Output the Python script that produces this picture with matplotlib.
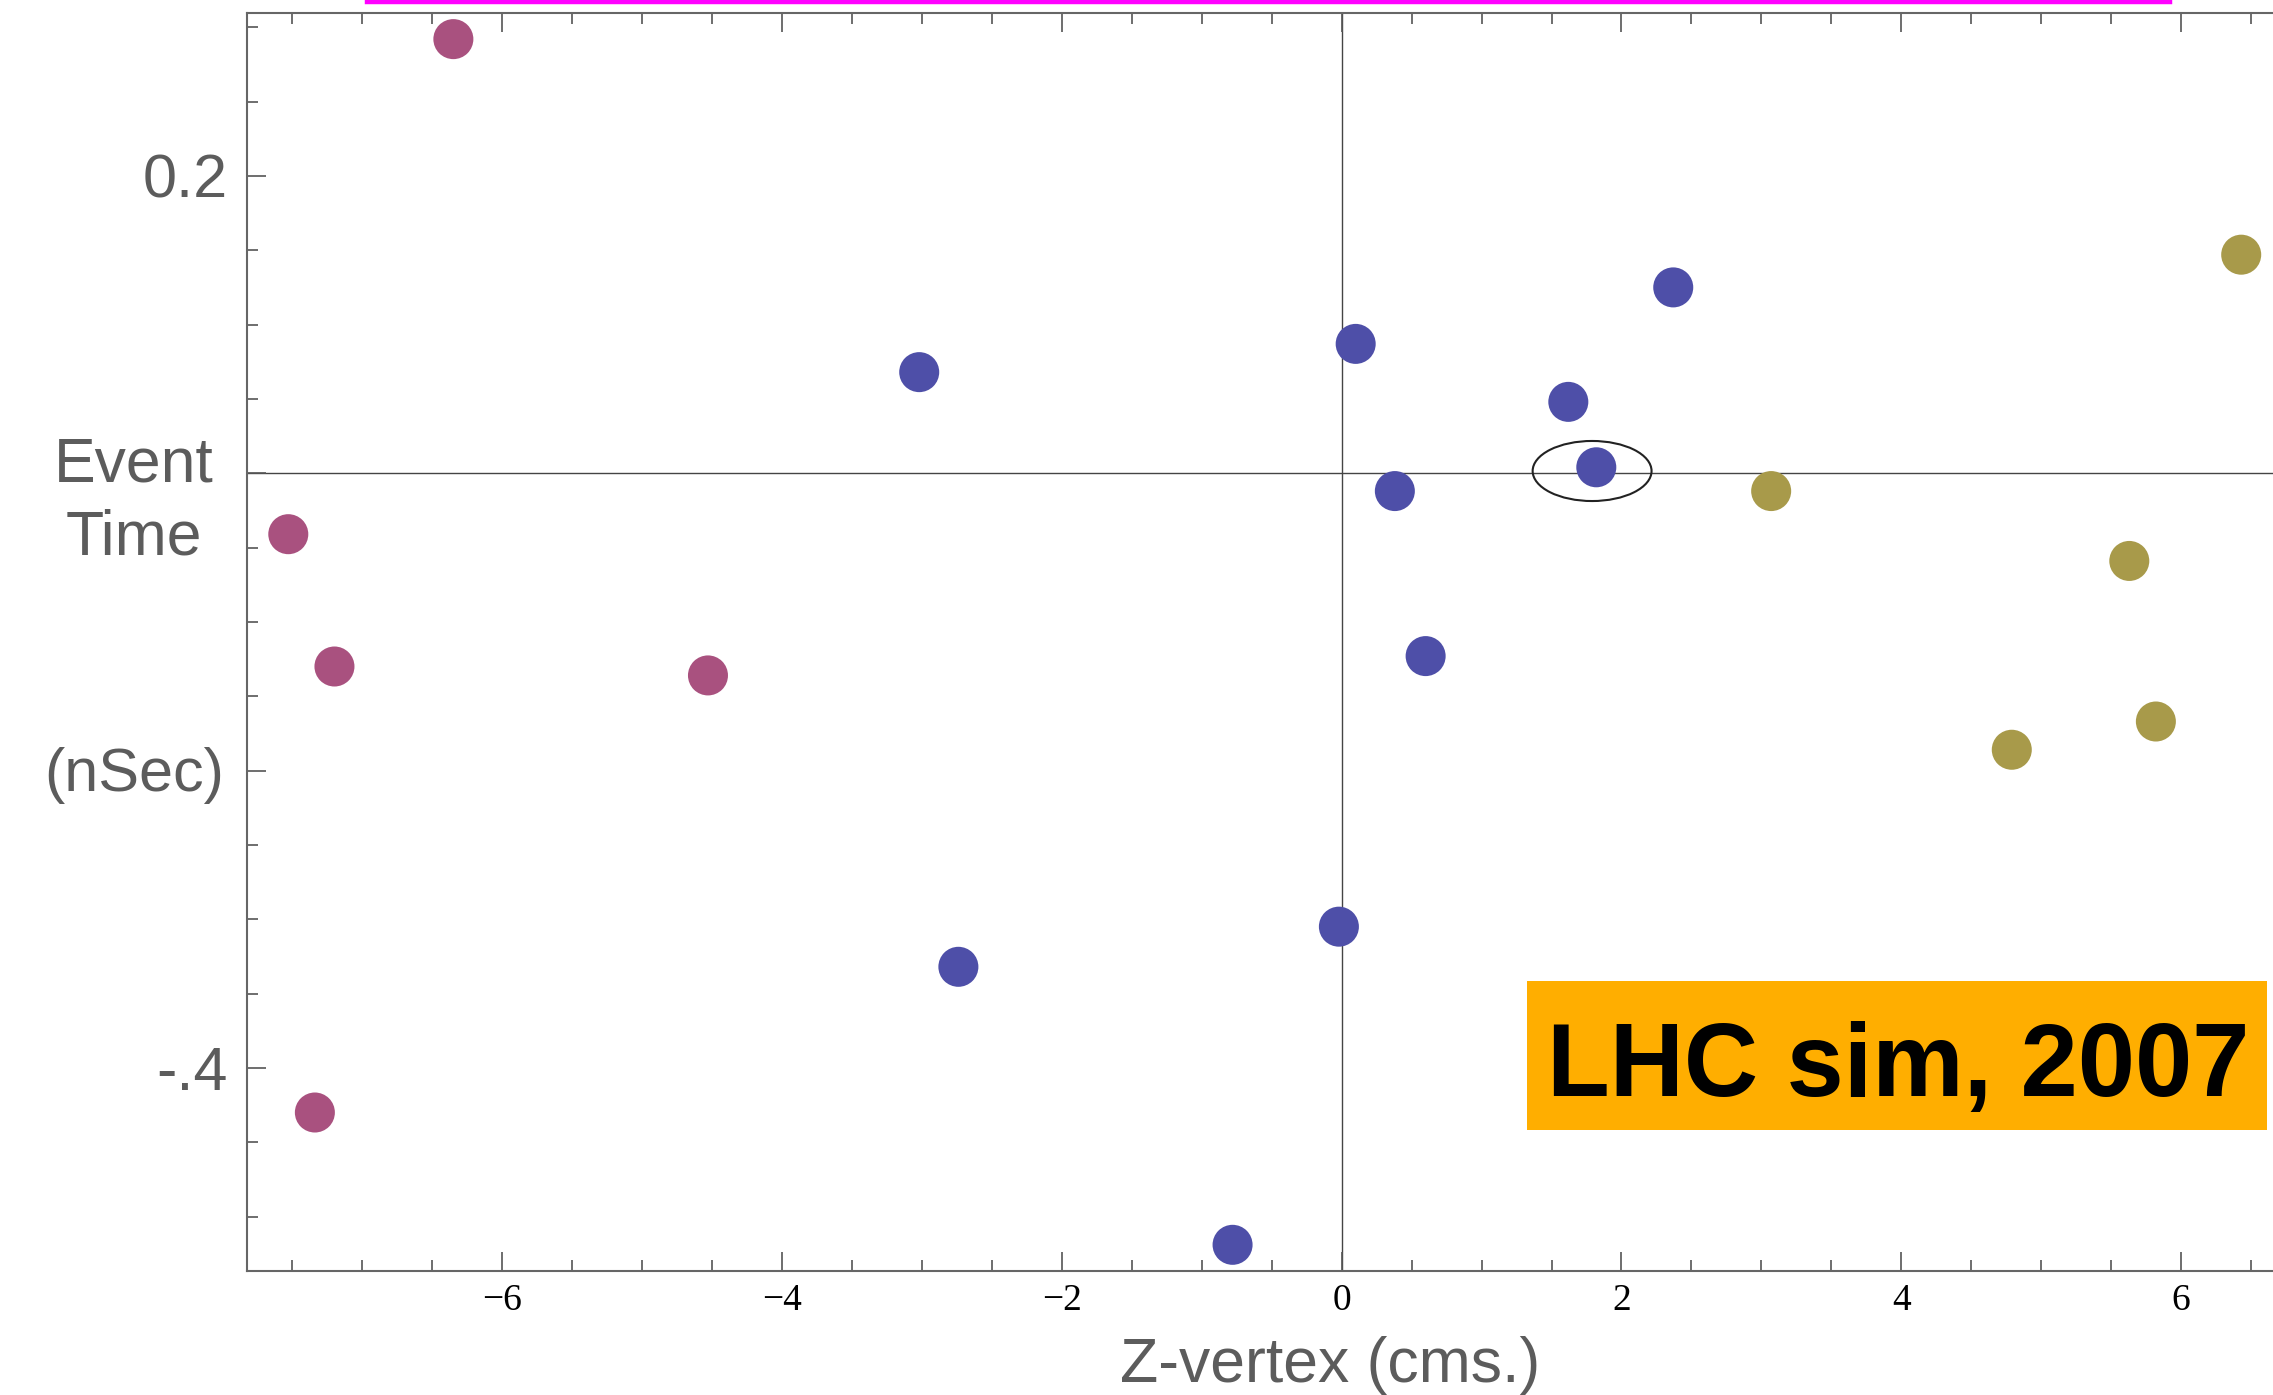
import matplotlib
matplotlib.use("Agg")
import matplotlib.pyplot as plt
from matplotlib.patches import Ellipse, Rectangle
from matplotlib.lines import Line2D
from matplotlib.ticker import MultipleLocator
from matplotlib.transforms import blended_transform_factory

# vertex clusters: z position (cm) and event time (ns)
pink_z = [-6.35, -7.53, -7.20, -4.53, -7.34]
pink_t = [0.292, -0.041, -0.130, -0.136, -0.430]

blue_z = [-3.02, 0.10, 2.37, 1.62, 1.82, 0.38, 0.60, -0.02, -2.74, -0.78]
blue_t = [0.068, 0.087, 0.125, 0.048, 0.004, -0.012, -0.123, -0.305, -0.332, -0.519]

olive_z = [6.43, 3.07, 5.63, 5.82, 4.79]
olive_t = [0.147, -0.012, -0.059, -0.167, -0.186]

circled = (1.79, 0.0015)

yticks = [0.2, 0, -0.2, -0.4]
ytick_labels = ['0.2', '', '', '-.4']

gray = '#5c5c5c'

fig = plt.figure(figsize=(22.73, 13.95), dpi=100)
ax = fig.add_axes([0.1088, 0.0889, 0.8934, 0.9016])

ax.axhline(0, color='#444444', lw=1.0, zorder=1)
ax.axvline(0, color='#444444', lw=1.0, zorder=1)

ax.scatter(pink_z, pink_t, s=830, color='#a9517f', edgecolors='none', zorder=3)
ax.scatter(blue_z, blue_t, s=830, color='#4e4fa8', edgecolors='none', zorder=3)
ax.scatter(olive_z, olive_t, s=830, color='#a89a4a', edgecolors='none', zorder=3)

ax.add_patch(Ellipse(circled, 0.85, 0.0404, fill=False, lw=1.5, ec='#222222', zorder=4))

ax.set_xlim(-7.823, 6.693)
ax.set_ylim(-0.5366, 0.3094)

ax.xaxis.set_major_locator(MultipleLocator(2))
ax.xaxis.set_minor_locator(MultipleLocator(0.5))
ax.yaxis.set_minor_locator(MultipleLocator(0.05))
ax.set_yticks(yticks, ytick_labels)

ax.tick_params(which='both', direction='in', top=True, right=False, color='#555555', width=1.2)
ax.tick_params(which='major', length=14)
ax.tick_params(which='minor', length=8)
ax.tick_params(axis='x', labelsize=27, labelcolor='black', pad=9, labelfontfamily='Liberation Serif')
ax.tick_params(axis='y', labelsize=44, labelcolor=gray, pad=14, labelfontfamily='Liberation Sans')

for s in ax.spines.values():
    s.set_color('#666666')
    s.set_linewidth(1.5)

# y-axis words sitting at the 0 and -0.2 ticks
tr = blended_transform_factory(fig.transFigure, ax.transData)
ax.text(134 / 2273, -0.019, 'Event\nTime', transform=tr, ha='center', va='center',
        fontsize=45, color=gray, family='Liberation Sans', linespacing=1.3)
ax.text(134 / 2273, -0.2036, '(nSec)', transform=tr, ha='center', va='center',
        fontsize=44, color=gray, family='Liberation Sans')

fig.text(1330 / 2273, 1 - 1382 / 1395, 'Z-vertex (cms.)', ha='center', va='baseline',
         fontsize=45, color=gray, family='Liberation Sans')

# orange caption box
fig.add_artist(Rectangle((1527 / 2273, 1 - 1130 / 1395), 740 / 2273, 149 / 1395,
                         transform=fig.transFigure, facecolor='#ffae00', edgecolor='none', zorder=5))
fig.text(1898 / 2273, 1 - 1096 / 1395, 'LHC sim, 2007', ha='center', va='baseline',
         fontsize=74, color='black', family='Liberation Sans', weight='bold', zorder=6)

# magenta rule at the very top
fig.add_artist(Line2D([367 / 2273, 2170 / 2273], [1 - 1.5 / 1395] * 2,
                      transform=fig.transFigure, color='#ff00ff', lw=3.2))

fig.savefig('out.png', dpi=100)
